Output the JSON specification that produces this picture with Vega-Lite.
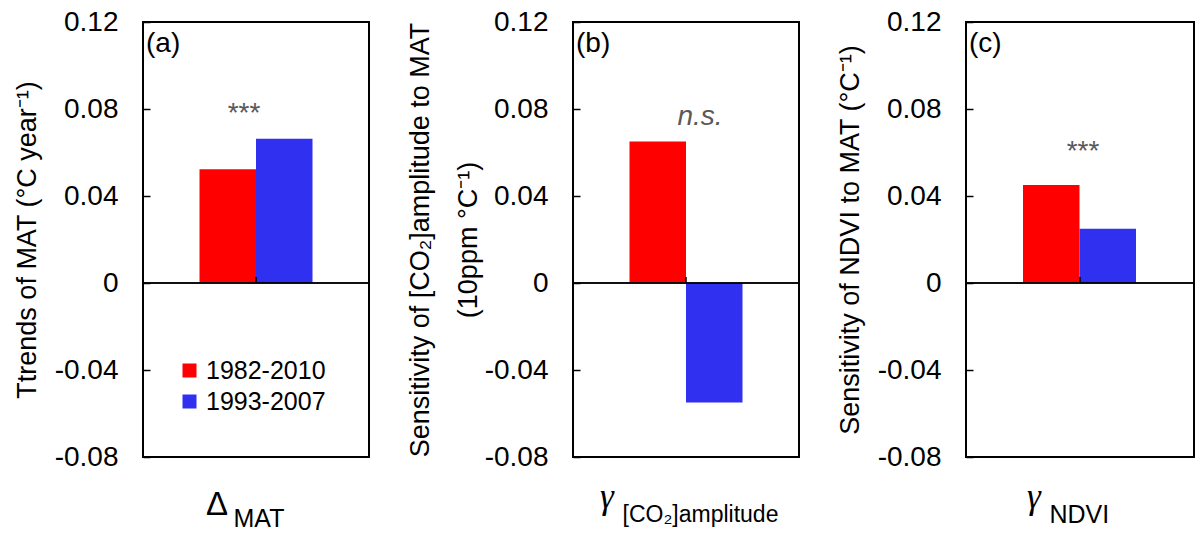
{
  "$schema": "https://vega.github.io/schema/vega-lite/v6.json",
  "padding": {"left": 12, "top": 7, "right": 0, "bottom": 0},
  "background": "white",
  "config": {
    "font": "Liberation Sans",
    "view": {"stroke": "black", "strokeWidth": 2},
    "concat": {"spacing": 34},
    "axis": {"grid": false}
  },
  "datasets": {
    "bars": [
      {"panel": "a", "cat": "Δ", "period": "1982-2010", "value": 0.0523},
      {"panel": "a", "cat": "Δ", "period": "1993-2007", "value": 0.0663},
      {"panel": "b", "cat": "γ", "period": "1982-2010", "value": 0.0651},
      {"panel": "b", "cat": "γ", "period": "1993-2007", "value": -0.0549},
      {"panel": "c", "cat": "γ", "period": "1982-2010", "value": 0.0451},
      {"panel": "c", "cat": "γ", "period": "1993-2007", "value": 0.0250}
    ],
    "notes": [
      {"panel": "a", "cat": "Δ", "note": "***"},
      {"panel": "b", "cat": "γ", "note": "n.s."},
      {"panel": "c", "cat": "γ", "note": "***"}
    ]
  },
  "resolve": {"scale": {"color": "independent"}, "legend": {"color": "independent"}},
  "hconcat": [
    {
      "width": 226,
      "height": 435,
      "title": {"text": "(a)", "anchor": "start", "frame": "group", "offset": -50, "fontSize": 28, "fontWeight": "normal", "dx": 3, "font": "Liberation Sans", "color": "black"},
      "layer": [
        {
          "data": {"name": "bars"},
          "transform": [{"filter": "datum.panel == 'a'"}],
          "mark": {"type": "bar"},
          "encoding": {
            "x": {"field": "cat", "type": "nominal", "scale": {"paddingInner": 0, "paddingOuter": 0.5},
              "axis": {"labelFontSize": 33, "labelColor": "black", "labelAngle": 0, "labelOffset": -39, "labelPadding": 31, "domain": false, "ticks": false,
                "title": "MAT", "titleFontSize": 25, "titleFontWeight": "normal", "titleColor": "black", "titleAlign": "left", "titleBaseline": "alphabetic", "titleX": 90, "titleY": 69}},
            "xOffset": {"field": "period", "type": "nominal", "scale": {"paddingInner": 0, "paddingOuter": 0}},
            "y": {"field": "value", "type": "quantitative", "scale": {"domain": [-0.08, 0.12], "nice": false, "zero": false},
              "axis": {"values": [-0.08, -0.04, 0, 0.04, 0.08, 0.12],
                "labelExpr": "datum.value == 0 ? '0' : (datum.value < 0 ? '-' : '') + format(abs(datum.value), '.2f')",
                "labelFontSize": 28, "labelColor": "black", "domain": false, "tickSize": -7, "tickColor": "black", "tickWidth": 1.5, "labelPadding": 32,
                "title": "Ttrends of MAT (°C year⁻¹)", "titleFontSize": 27, "titleFontWeight": "normal", "titleColor": "black", "titlePadding": 13}},
            "color": {"field": "period", "type": "nominal", "scale": {"domain": ["1982-2010", "1993-2007"], "range": ["#FF0000", "#3030F0"]},
              "legend": {"orient": "none", "legendX": 34, "legendY": 336, "title": null, "labelFontSize": 25, "labelColor": "black", "symbolType": "square", "symbolSize": 196, "symbolStrokeWidth": 0, "symbolOpacity": 1, "rowPadding": 5, "labelOffset": 4}}
          }
        },
        {
          "data": {"name": "bars"},
          "transform": [{"filter": "datum.panel == 'a'"}],
          "mark": {"type": "rule", "color": "black", "strokeWidth": 1.5},
          "encoding": {"y": {"datum": 0}}
        },
        {
          "data": {"name": "notes"},
          "transform": [{"filter": "datum.panel == 'a'"}],
          "mark": {"type": "rule", "color": "black", "strokeWidth": 1.5},
          "encoding": {"x": {"field": "cat", "type": "nominal"}, "y": {"datum": 0}, "y2": {"datum": 0.0028}}
        },
        {
          "data": {"name": "notes"},
          "transform": [{"filter": "datum.panel == 'a'"}],
          "mark": {"type": "text", "fontSize": 28, "color": "#595959", "baseline": "alphabetic", "dx": -12},
          "encoding": {"x": {"field": "cat", "type": "nominal"}, "y": {"datum": 0.074}, "text": {"field": "note"}}
        }
      ]
    },
    {
      "width": 226,
      "height": 435,
      "title": {"text": "(b)", "anchor": "start", "frame": "group", "offset": -50, "fontSize": 28, "fontWeight": "normal", "dx": 3, "font": "Liberation Sans", "color": "black"},
      "layer": [
        {
          "data": {"name": "bars"},
          "transform": [{"filter": "datum.panel == 'b'"}],
          "mark": {"type": "bar"},
          "encoding": {
            "x": {"field": "cat", "type": "nominal", "scale": {"paddingInner": 0, "paddingOuter": 0.5},
              "axis": {"labelFontSize": 35, "labelFont": "Liberation Serif", "labelFontStyle": "italic", "labelColor": "black", "labelAngle": 0, "labelOffset": -79, "labelPadding": 22, "domain": false, "ticks": false,
                "title": "[CO₂]amplitude", "titleFontSize": 23, "titleFontWeight": "normal", "titleColor": "black", "titleAlign": "left", "titleBaseline": "alphabetic", "titleX": 49, "titleY": 64}},
            "xOffset": {"field": "period", "type": "nominal", "scale": {"paddingInner": 0, "paddingOuter": 0}},
            "y": {"field": "value", "type": "quantitative", "scale": {"domain": [-0.08, 0.12], "nice": false, "zero": false},
              "axis": {"values": [-0.08, -0.04, 0, 0.04, 0.08, 0.12],
                "labelExpr": "datum.value == 0 ? '0' : (datum.value < 0 ? '-' : '') + format(abs(datum.value), '.2f')",
                "labelFontSize": 28, "labelColor": "black", "domain": false, "tickSize": -7, "tickColor": "black", "tickWidth": 1.5, "labelPadding": 32,
                "title": ["Sensitivity of [CO₂]amplitude to MAT", "(10ppm °C⁻¹)"], "titleLineHeight": 48, "titleFontSize": 27, "titleFontWeight": "normal", "titleColor": "black", "titlePadding": 2}},
            "color": {"field": "period", "type": "nominal", "scale": {"domain": ["1982-2010", "1993-2007"], "range": ["#FF0000", "#3030F0"]}, "legend": null}
          }
        },
        {
          "data": {"name": "bars"},
          "transform": [{"filter": "datum.panel == 'b'"}],
          "mark": {"type": "rule", "color": "black", "strokeWidth": 1.5},
          "encoding": {"y": {"datum": 0}}
        },
        {
          "data": {"name": "notes"},
          "transform": [{"filter": "datum.panel == 'b'"}],
          "mark": {"type": "rule", "color": "black", "strokeWidth": 1.5},
          "encoding": {"x": {"field": "cat", "type": "nominal"}, "y": {"datum": 0}, "y2": {"datum": 0.0028}}
        },
        {
          "data": {"name": "notes"},
          "transform": [{"filter": "datum.panel == 'b'"}],
          "mark": {"type": "text", "fontSize": 28, "fontStyle": "italic", "color": "#595959", "baseline": "alphabetic", "dx": 14},
          "encoding": {"x": {"field": "cat", "type": "nominal"}, "y": {"datum": 0.0725}, "text": {"field": "note"}}
        }
      ]
    },
    {
      "width": 228,
      "height": 435,
      "title": {"text": "(c)", "anchor": "start", "frame": "group", "offset": -50, "fontSize": 28, "fontWeight": "normal", "dx": 3, "font": "Liberation Sans", "color": "black"},
      "layer": [
        {
          "data": {"name": "bars"},
          "transform": [{"filter": "datum.panel == 'c'"}],
          "mark": {"type": "bar"},
          "encoding": {
            "x": {"field": "cat", "type": "nominal", "scale": {"paddingInner": 0, "paddingOuter": 0.5},
              "axis": {"labelFontSize": 35, "labelFont": "Liberation Serif", "labelFontStyle": "italic", "labelColor": "black", "labelAngle": 0, "labelOffset": -46, "labelPadding": 22, "domain": false, "ticks": false,
                "title": "NDVI", "titleFontSize": 25, "titleFontWeight": "normal", "titleColor": "black", "titleAlign": "left", "titleBaseline": "alphabetic", "titleX": 83, "titleY": 65}},
            "xOffset": {"field": "period", "type": "nominal", "scale": {"paddingInner": 0, "paddingOuter": 0}},
            "y": {"field": "value", "type": "quantitative", "scale": {"domain": [-0.08, 0.12], "nice": false, "zero": false},
              "axis": {"values": [-0.08, -0.04, 0, 0.04, 0.08, 0.12],
                "labelExpr": "datum.value == 0 ? '0' : (datum.value < 0 ? '-' : '') + format(abs(datum.value), '.2f')",
                "labelFontSize": 28, "labelColor": "black", "domain": false, "tickSize": -7, "tickColor": "black", "tickWidth": 1.5, "labelPadding": 32,
                "title": "Sensitivity of NDVI to MAT (°C⁻¹)", "titleFontSize": 27, "titleFontWeight": "normal", "titleColor": "black", "titlePadding": 13}},
            "color": {"field": "period", "type": "nominal", "scale": {"domain": ["1982-2010", "1993-2007"], "range": ["#FF0000", "#3030F0"]}, "legend": null}
          }
        },
        {
          "data": {"name": "bars"},
          "transform": [{"filter": "datum.panel == 'c'"}],
          "mark": {"type": "rule", "color": "black", "strokeWidth": 1.5},
          "encoding": {"y": {"datum": 0}}
        },
        {
          "data": {"name": "notes"},
          "transform": [{"filter": "datum.panel == 'c'"}],
          "mark": {"type": "rule", "color": "black", "strokeWidth": 1.5},
          "encoding": {"x": {"field": "cat", "type": "nominal"}, "y": {"datum": 0}, "y2": {"datum": 0.0028}}
        },
        {
          "data": {"name": "notes"},
          "transform": [{"filter": "datum.panel == 'c'"}],
          "mark": {"type": "text", "fontSize": 28, "color": "#595959", "baseline": "alphabetic", "dx": 3},
          "encoding": {"x": {"field": "cat", "type": "nominal"}, "y": {"datum": 0.0566}, "text": {"field": "note"}}
        }
      ]
    }
  ]
}
